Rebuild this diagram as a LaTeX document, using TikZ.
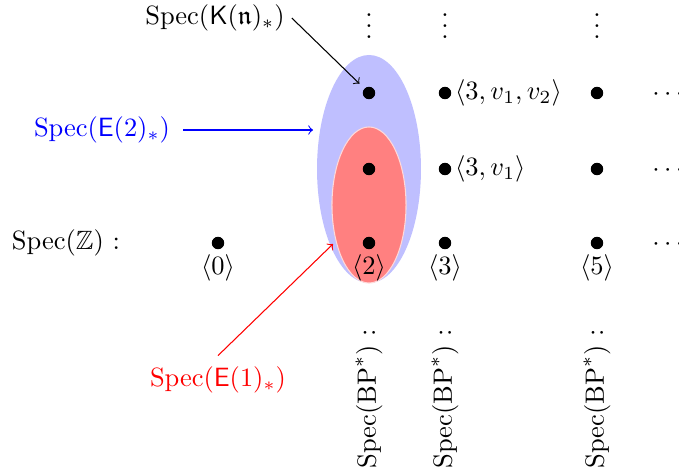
\documentclass[tikz,border=0pt]{standalone}
\usepackage{amsmath,amssymb}
\usetikzlibrary{shapes.geometric}
\DeclareMathOperator{\Spec}{Spec}
\begin{document}
\begin{tikzpicture}[x=0.378pt,y=-0.378pt,
  pt/.style={circle,fill=black,inner sep=0pt,minimum size=4.7pt},
  lbl/.style={inner sep=1pt},
  arr/.style={->,line width=0.4pt}]
\useasboundingbox (0,0) rectangle (679,470);
% regions
\node[ellipse,fill=blue!25,inner sep=0pt,minimum width=39.3pt,minimum height=86.2pt] (B) at (369,169) {};
\node[ellipse,fill=red!50,draw=red!15,line width=0.4pt,inner sep=0pt,minimum width=28pt,minimum height=59pt] (R) at (369,205) {};
% points
\foreach \n/\x in {a/369,b/445,c/597}{
  \node[pt] (t\n) at (\x,93) {};
  \node[pt] (m\n) at (\x,169) {};
  \node[pt] (z\n) at (\x,243) {};
  \node[inner sep=0pt,anchor=base] (v\n) at (\x,38) {\raisebox{0pt}[9.5pt][0pt]{$\vdots$}};
  \node[lbl,rotate=90,anchor=east] (s\n) at (\x,326) {$\Spec(\mathrm{BP}^*)$ :};
}
\node[pt] (z0) at (218,243) {};
\foreach \y/\nm in {93/h1,169/h2,243/h3}{
  \node[lbl] (\nm) at (670,\y+2) {$\cdots$};
}
% labels
\node[lbl] (l0) at (218,268) {$\langle 0\rangle$};
\node[lbl] (l2) at (369,268) {$\langle 2\rangle$};
\node[lbl] (l3) at (445,268) {$\langle 3\rangle$};
\node[lbl] (l5) at (597,268) {$\langle 5\rangle$};
\node[lbl,anchor=west] (q1) at (452,169) {$\langle 3, v_1\rangle$};
\node[lbl,anchor=west] (q2) at (452,93) {$\langle 3, v_1, v_2\rangle$};
\node[lbl] (sz) at (66,243) {$\Spec(\mathbb{Z})$ :};
% named objects
\node[lbl] (kn) at (215,18) {$\Spec(\mathsf{K}(\mathfrak{n})_*)$};
\node[lbl,text=blue] (e2) at (102,130) {$\Spec(\mathsf{E}(2)_*)$};
\node[lbl,text=red] (e1) at (218,380) {$\Spec(\mathsf{E}(1)_*)$};
\coordinate (be) at (313,130);
\coordinate (re) at (333,244);
\draw[arr,shorten >=2.5pt] (kn.east) ++(4,0) -- (ta);
\draw[arr,blue] (e2.east) ++(10,0) -- (be);
\draw[arr,red] (e1.north) ++(0,-8) -- (re);
\end{tikzpicture}
\end{document}
